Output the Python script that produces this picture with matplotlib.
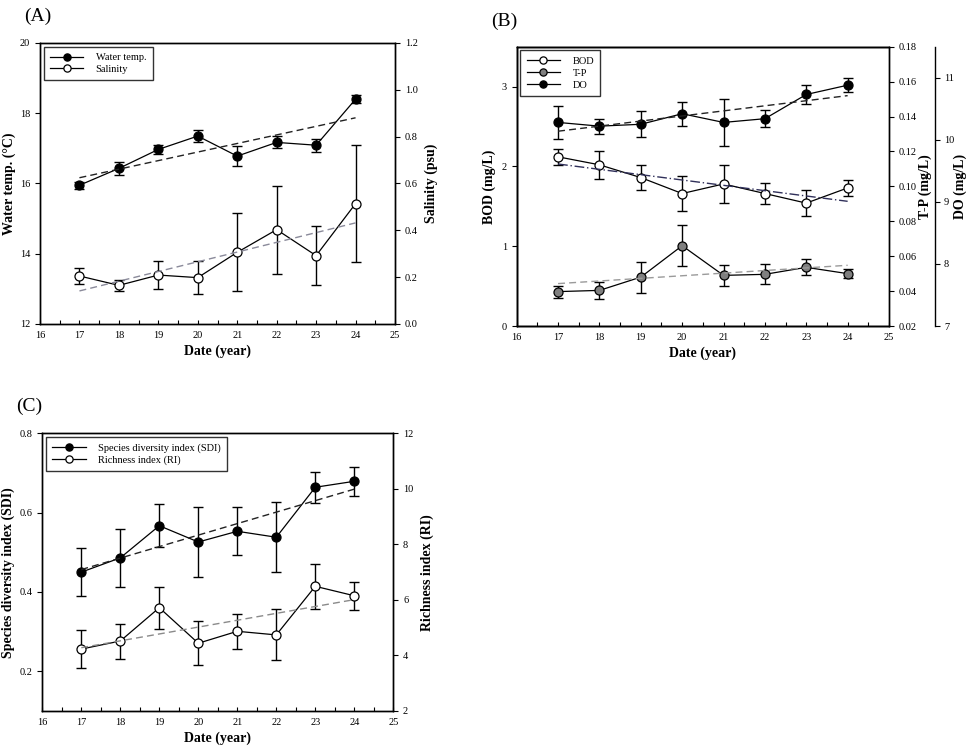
import numpy as np
import matplotlib
matplotlib.use("Agg")
import matplotlib.pyplot as plt
from matplotlib.ticker import MultipleLocator, FormatStrFormatter

plt.rcParams['font.family'] = ['Liberation Serif', 'DejaVu Serif']

years = [17, 18, 19, 20, 21, 22, 23, 24]

# Panel A
water_temp = [15.95, 16.43, 16.97, 17.35, 16.78, 17.17, 17.09, 18.40]
water_temp_err = [0.10, 0.18, 0.14, 0.17, 0.28, 0.17, 0.19, 0.11]
salinity = [0.205, 0.165, 0.209, 0.198, 0.306, 0.403, 0.292, 0.514]
salinity_err = [0.036, 0.023, 0.059, 0.070, 0.166, 0.188, 0.126, 0.249]

# Panel B
bod = [2.12, 2.02, 1.86, 1.66, 1.78, 1.66, 1.54, 1.73]
bod_err = [0.10, 0.175, 0.156, 0.225, 0.235, 0.13, 0.16, 0.104]
tp = [0.0397, 0.0404, 0.048, 0.066, 0.049, 0.0496, 0.0536, 0.050]
tp_err = [0.0035, 0.0049, 0.0089, 0.0118, 0.0059, 0.0057, 0.0046, 0.0026]
do = [10.28, 10.22, 10.25, 10.42, 10.28, 10.34, 10.73, 10.88]
do_err = [0.26, 0.12, 0.21, 0.19, 0.38, 0.14, 0.16, 0.11]

# Panel C
sdi = [0.450, 0.486, 0.567, 0.526, 0.553, 0.538, 0.664, 0.679]
sdi_err = [0.060, 0.073, 0.054, 0.089, 0.060, 0.088, 0.039, 0.036]
ri = [4.23, 4.52, 5.72, 4.44, 4.87, 4.74, 6.49, 6.15]
ri_err = [0.68, 0.63, 0.75, 0.79, 0.63, 0.92, 0.82, 0.50]

TICK_FS = 7.5
LAB_FS = 10
LEG_FS = 7.5

fig = plt.figure(figsize=(9.67, 7.48), dpi=100)


def style_x(ax):
    ax.set_xlim(16, 25)
    ax.xaxis.set_major_locator(MultipleLocator(1))
    ax.xaxis.set_minor_locator(MultipleLocator(0.5))
    ax.tick_params(axis='x', which='both', direction='in', length=3, width=0.8,
                   labelsize=TICK_FS, pad=5, top=False)
    ax.set_xlabel('Date (year)', fontsize=LAB_FS, fontweight='bold', labelpad=3)


def style_y(ax, pad=3.5):
    ax.tick_params(axis='y', which='major', direction='out', length=3.5, width=0.8,
                   labelsize=TICK_FS, pad=pad)


def series(ax, y, err, face, trend_color, trend_dash=(5, 3)):
    x = np.array(years, dtype=float)
    ax.errorbar(x, y, yerr=err, fmt='none', ecolor='black', elinewidth=1.0,
                capsize=3.5, capthick=1.0, zorder=2)
    line, = ax.plot(x, y, '-o', color='black', lw=0.9, markersize=6.5,
                    markerfacecolor=face, markeredgecolor='black',
                    markeredgewidth=0.9, zorder=3)
    k, b = np.polyfit(x, np.array(y, dtype=float), 1)
    xs = np.array([x[0], x[-1]])
    ax.plot(xs, k * xs + b, color=trend_color, lw=1.0, dashes=trend_dash, zorder=4)
    return line


def legend(ax, handles, labels):
    leg = ax.legend(handles, labels, loc='upper left', fontsize=LEG_FS,
                    frameon=True, fancybox=False, edgecolor='black',
                    handlelength=3.2, handletextpad=1.2, borderpad=0.6,
                    labelspacing=0.25, borderaxespad=0.35, markerscale=0.8)
    leg.get_frame().set_linewidth(1.0)
    return leg


def spines(ax):
    for s in ax.spines.values():
        s.set_linewidth(1.0)


# ---------------- Panel A ----------------
axA = fig.add_axes([40 / 967, 1 - 324 / 748, 355 / 967, 281 / 748])
axA2 = axA.twinx()
lA1 = series(axA, water_temp, water_temp_err, 'black', '#222222')
lA2 = series(axA2, salinity, salinity_err, 'white', '#8a8a9a')
axA.set_ylim(12, 20)
axA.yaxis.set_major_locator(MultipleLocator(2))
axA2.set_ylim(0, 1.2)
axA2.yaxis.set_major_locator(MultipleLocator(0.2))
axA2.yaxis.set_major_formatter(FormatStrFormatter('%.1f'))
style_x(axA)
style_y(axA)
style_y(axA2)
axA.set_ylabel('Water temp. (°C)', fontsize=LAB_FS, fontweight='bold', labelpad=3)
axA2.set_ylabel('Salinity (psu)', fontsize=LAB_FS, fontweight='bold', labelpad=5)
legend(axA2, [lA1, lA2], ['Water temp.', 'Salinity'])
spines(axA); spines(axA2)

# ---------------- Panel B ----------------
axB = fig.add_axes([516.7 / 967, 1 - 326 / 748, 372.3 / 967, 279.3 / 748])
axB2 = axB.twinx()
axB3 = axB.twinx()
axB3.spines['right'].set_position(('axes', 1 + 46 / 372.3))
lB1 = series(axB, bod, bod_err, 'white', '#30305a', trend_dash=(7, 2, 1, 2))
lB2 = series(axB2, tp, tp_err, '#7f7f7f', '#9a9a9a')
lB3 = series(axB3, do, do_err, 'black', '#222222')
axB.set_ylim(0, 3.5)
axB.yaxis.set_major_locator(MultipleLocator(1))
axB2.set_ylim(0.02, 0.18)
axB2.set_yticks([0.02, 0.04, 0.06, 0.08, 0.10, 0.12, 0.14, 0.16, 0.18])
axB2.yaxis.set_major_formatter(FormatStrFormatter('%.2f'))
axB3.set_ylim(7, 11.5)
axB3.set_yticks([7, 8, 9, 10, 11])
style_x(axB)
style_y(axB); style_y(axB2); style_y(axB3, pad=3)
axB.set_ylabel('BOD (mg/L)', fontsize=LAB_FS, fontweight='bold', labelpad=4)
axB2.set_ylabel('T-P (mg/L)', fontsize=LAB_FS, fontweight='bold', labelpad=1)
axB3.set_ylabel('DO (mg/L)', fontsize=LAB_FS, fontweight='bold', labelpad=-0.5)
legend(axB3, [lB1, lB2, lB3], ['BOD', 'T-P', 'DO'])
spines(axB); spines(axB2); spines(axB3)

# ---------------- Panel C ----------------
axC = fig.add_axes([42.3 / 967, 1 - 711 / 748, 351 / 967, 277.7 / 748])
axC2 = axC.twinx()
lC1 = series(axC, sdi, sdi_err, 'black', '#222222')
lC2 = series(axC2, ri, ri_err, 'white', '#8a8a8a')
axC.set_ylim(0.1, 0.8)
axC.set_yticks([0.2, 0.4, 0.6, 0.8])
axC.yaxis.set_major_formatter(FormatStrFormatter('%.1f'))
axC2.set_ylim(2, 12)
axC2.yaxis.set_major_locator(MultipleLocator(2))
style_x(axC)
style_y(axC); style_y(axC2)
axC.set_ylabel('Species diversity index (SDI)', fontsize=LAB_FS, fontweight='bold', labelpad=3)
axC2.set_ylabel('Richness index (RI)', fontsize=LAB_FS, fontweight='bold', labelpad=5)
legend(axC2, [lC1, lC2], ['Species diversity index (SDI)', 'Richness index (RI)'])
spines(axC); spines(axC2)

# panel labels
fig.text(24 / 967, 1 - 8 / 748, '(A)', fontsize=14, va='top', ha='left')
fig.text(491 / 967, 1 - 13 / 748, '(B)', fontsize=14, va='top', ha='left')
fig.text(16 / 967, 1 - 398 / 748, '(C)', fontsize=14, va='top', ha='left')

fig.savefig('out.png', dpi=100)
